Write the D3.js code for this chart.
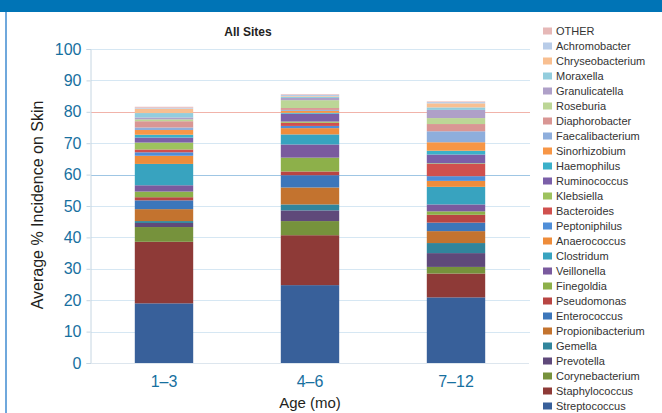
<!DOCTYPE html>
<html>
<head>
<meta charset="utf-8">
<script src="https://cdn.jsdelivr.net/npm/d3@7/dist/d3.min.js"></script>
<style>
  html, body { margin: 0; padding: 0; background: #fff; }
  svg { display: block; }
</style>
</head>
<body>
<svg id="chart" width="662" height="413"></svg>
<script>
// Age groups on the x axis
const ageGroups = ["1\u20133", "4\u20136", "7\u201312"];

// Genera, stacked from the bottom of each column upward
const genera = [
  "Streptococcus", "Staphylococcus", "Corynebacterium", "Prevotella", "Gemella",
  "Propionibacterium", "Enterococcus", "Pseudomonas", "Finegoldia", "Veillonella",
  "Clostridum", "Anaerococcus", "Peptoniphilus", "Bacteroides", "Klebsiella",
  "Ruminococcus", "Haemophilus", "Sinorhizobium", "Faecalibacterium", "Diaphorobacter",
  "Roseburia", "Granulicatella", "Moraxella", "Chryseobacterium", "Achromobacter", "OTHER"
];

// Average % incidence per genus (same order as genera) for each age group
const age1to3 = [19.0, 19.6, 4.7, 1.3, 0.6, 3.8, 2.8, 1.0, 1.8, 2.0,
                 6.8, 2.6, 1.1, 0.9, 2.2, 1.6, 0.9, 1.5, 0.8, 2.0,
                 0.6, 0.6, 1.4, 1.4, 0.3, 0.3];
const age4to6 = [24.8, 15.9, 4.5, 3.4, 1.9, 5.4, 3.9, 1.2, 4.4, 4.2,
                 3.2, 2.0, 0.7, 1.0, 0.4, 2.5, 0.3, 0.6, 0.3, 0.6,
                 2.5, 0.7, 0.4, 0.2, 0.4, 0.2];
const age7to12 = [20.9, 7.6, 2.1, 4.4, 3.2, 3.8, 2.7, 2.5, 1.1, 2.2,
                  5.6, 1.9, 1.5, 3.9, 0.2, 2.8, 1.2, 2.7, 3.5, 2.3,
                  1.9, 2.6, 0.8, 1.3, 0.4, 0.2];

const yTicks = [0, 10, 20, 30, 40, 50, 60, 70, 80, 90, 100];

// Fill colour per genus (same order as genera)
const genusColors = [
  "#38609a", "#8e3a37", "#76923c", "#5f497a", "#31859c",
  "#c3732f", "#3c76ba", "#b84543", "#8db04a", "#7a5a9e",
  "#38a3bf", "#ee8c3a", "#4f8ed8", "#d0504e", "#9dc25e",
  "#7b5fa8", "#3bb0c9", "#f79646", "#8eaedc", "#d99694",
  "#bcd696", "#afa0c8", "#93cddd", "#f8bf91", "#b8cce8", "#e6b8b7"
];

const seriesByAge = [age1to3, age4to6, age7to12];
const rows = ageGroups.map((age, i) => {
  const r = { age };
  genera.forEach((g, j) => { r[g] = seriesByAge[i][j]; });
  return r;
});

const svg = d3.select("#chart");

// Page furniture: top band and left rule
svg.append("rect").attr("x", 0).attr("y", 0).attr("width", 662).attr("height", 12).attr("fill", "#0074b6");
svg.append("rect").attr("x", 5).attr("y", 12).attr("width", 2).attr("height", 401).attr("fill", "#6fa8dc");

const x = d3.scaleBand(ageGroups, [91, 529]).paddingInner(0.6).paddingOuter(0.3);
const y = d3.scaleLinear([0, 100], [363, 49]);
const color = d3.scaleOrdinal(genera, genusColors);

// Gridlines
svg.append("g")
  .selectAll("line")
  .data(yTicks.filter(t => t > 0))
  .join("line")
  .attr("x1", 91).attr("x2", 530)
  .attr("y1", d => Math.round(y(d)) + 0.5).attr("y2", d => Math.round(y(d)) + 0.5)
  .attr("stroke", d => d === 80 ? "#f1b3aa" : (d === 60 ? "#9fc6e4" : "#d6e7f3"))
  .attr("stroke-width", 1);

// Stacked columns
const stack = d3.stack().keys(genera);
const layers = stack(rows);
svg.append("g")
  .selectAll("g")
  .data(layers)
  .join("g")
  .attr("fill", d => color(d.key))
  .selectAll("rect")
  .data(d => d)
  .join("rect")
  .attr("x", d => x(d.data.age))
  .attr("width", x.bandwidth())
  .attr("y", d => y(d[1]))
  .attr("height", d => y(d[0]) - y(d[1]));

// Y axis
const yAxis = svg.append("g")
  .attr("transform", "translate(90.5,0)")
  .call(d3.axisLeft(y).tickValues(yTicks).tickSize(4).tickPadding(5));
yAxis.select(".domain").attr("stroke", "#c6d6e2");
yAxis.selectAll(".tick line").attr("stroke", "#c6d6e2");
yAxis.selectAll(".tick text")
  .attr("fill", "#17709f")
  .style("font", "16px 'Liberation Sans', Arial, sans-serif");

// X axis
const xAxis = svg.append("g")
  .attr("transform", "translate(0,363.5)")
  .call(d3.axisBottom(x).tickSize(0).tickPadding(12));
xAxis.select(".domain").attr("stroke", "#dde6ee").attr("d", "M91,0H529");
xAxis.selectAll(".tick text")
  .attr("fill", "#17709f")
  .style("font", "16px 'Liberation Sans', Arial, sans-serif");

// Axis titles and chart title
svg.append("text")
  .attr("transform", "translate(43,205) rotate(-90)")
  .attr("text-anchor", "middle")
  .attr("fill", "#231f20")
  .style("font", "16px 'Liberation Sans', Arial, sans-serif")
  .text("Average % Incidence on Skin");

svg.append("text")
  .attr("x", 310).attr("y", 408)
  .attr("text-anchor", "middle")
  .attr("fill", "#231f20")
  .style("font", "15px 'Liberation Sans', Arial, sans-serif")
  .text("Age (mo)");

svg.append("text")
  .attr("x", 248).attr("y", 36)
  .attr("text-anchor", "middle")
  .attr("fill", "#222")
  .style("font", "bold 12px 'Liberation Sans', Arial, sans-serif")
  .text("All Sites");

// Legend, top entry is the last stacked genus
const legendOrder = genera.slice().reverse();
const legend = svg.append("g")
  .selectAll("g")
  .data(legendOrder)
  .join("g")
  .attr("transform", (d, i) => `translate(543,${31 + i * 15.0})`);
legend.append("rect")
  .attr("x", 0).attr("y", -3.5).attr("width", 9).attr("height", 7)
  .attr("fill", d => color(d));
legend.append("text")
  .attr("x", 13).attr("y", 0).attr("dy", "0.35em")
  .attr("fill", "#333")
  .style("font", "11px 'Liberation Sans Narrow', 'Arial Narrow', sans-serif")
  .text(d => d);
</script>
</body>
</html>
